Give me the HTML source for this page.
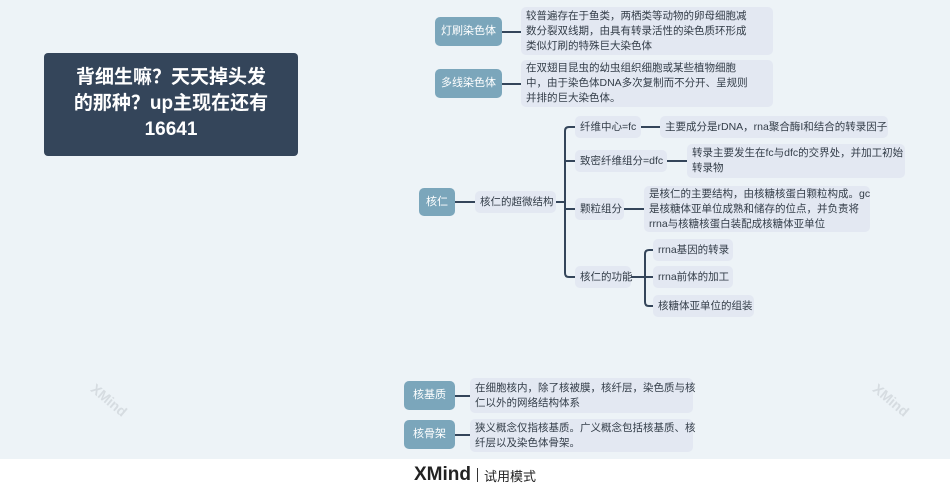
<!DOCTYPE html>
<html><head><meta charset="utf-8"><style>
*{margin:0;padding:0;box-sizing:border-box}
body{width:950px;height:491px;background:#edf3f7;position:relative;overflow:hidden;font-family:"Liberation Sans","Noto Sans CJK SC",sans-serif}
.b{position:absolute;display:flex;align-items:center;font-size:10.5px;color:#333d48;line-height:15px;white-space:nowrap}
.p{background:#7ba6bb;color:#fff;border-radius:5px;justify-content:center;font-size:11px}
.l{background:#e3e8f2;border-radius:5px;padding:0 5px}
.t{position:absolute;left:44px;top:53px;width:254px;height:103px;background:#34455a;border-radius:4px;color:#fff;font-weight:bold;font-size:19px;line-height:26px;text-align:center;padding-top:12px;font-family:"Liberation Sans","Noto Sans CJK SC",sans-serif}
.foot{position:absolute;left:0;top:459px;width:950px;height:32px;background:#fff;display:flex;align-items:center;justify-content:center}
svg{position:absolute;left:0;top:0}
.wm{position:absolute;color:#d6dce1;font-size:14px;font-weight:bold;transform:rotate(40deg)}
</style></head><body>
<div class="wm" style="left:88px;top:392px">XMind</div>
<div class="wm" style="left:870px;top:392px">XMind</div>
<svg width="950" height="491">
<g stroke="#34455a" stroke-width="2" fill="none">
<line x1="502" y1="32" x2="521" y2="32"/>
<line x1="502" y1="84" x2="521" y2="84"/>
<line x1="455" y1="202" x2="475" y2="202"/>
<line x1="556" y1="202" x2="565" y2="202"/>
<path d="M575 127 H569 Q565 127 565 131 V273 Q565 277 569 277 H575"/>
<line x1="565" y1="161" x2="575" y2="161"/>
<line x1="565" y1="209" x2="575" y2="209"/>
<line x1="641" y1="127" x2="660" y2="127"/>
<line x1="667" y1="161" x2="687" y2="161"/>
<line x1="624" y1="209" x2="644" y2="209"/>
<line x1="631" y1="277" x2="645" y2="277"/>
<path d="M653 250 H649 Q645 250 645 254 V302 Q645 306 649 306 H653"/>
<line x1="645" y1="277" x2="653" y2="277"/>
<line x1="455" y1="396" x2="470" y2="396"/>
<line x1="455" y1="435" x2="470" y2="435"/>
</g></svg>
<div class="t">背细生嘛？天天掉头发<br>的那种？up主现在还有<br>16641</div>
<div class="b p" style="left:435px;top:17px;width:67px;height:29px">灯刷染色体</div>
<div class="b l" style="left:521px;top:7px;width:252px;height:48px">较普遍存在于鱼类，两栖类等动物的卵母细胞减<br>数分裂双线期，由具有转录活性的染色质环形成<br>类似灯刷的特殊巨大染色体</div>
<div class="b p" style="left:435px;top:69px;width:67px;height:29px">多线染色体</div>
<div class="b l" style="left:521px;top:60px;width:252px;height:47px">在双翅目昆虫的幼虫组织细胞或某些植物细胞<br>中，由于染色体DNA多次复制而不分开、呈规则<br>并排的巨大染色体。</div>
<div class="b p" style="left:419px;top:188px;width:36px;height:28px">核仁</div>
<div class="b l" style="left:475px;top:191px;width:81px;height:22px">核仁的超微结构</div>
<div class="b l" style="left:575px;top:116px;width:66px;height:22px">纤维中心=fc</div>
<div class="b l" style="left:660px;top:116px;width:228px;height:22px">主要成分是rDNA，rna聚合酶I和结合的转录因子</div>
<div class="b l" style="left:575px;top:150px;width:92px;height:22px">致密纤维组分=dfc</div>
<div class="b l" style="left:687px;top:144px;width:218px;height:34px">转录主要发生在fc与dfc的交界处，并加工初始<br>转录物</div>
<div class="b l" style="left:575px;top:198px;width:49px;height:22px">颗粒组分</div>
<div class="b l" style="left:644px;top:186px;width:226px;height:46px">是核仁的主要结构，由核糖核蛋白颗粒构成。gc<br>是核糖体亚单位成熟和储存的位点，并负责将<br>rrna与核糖核蛋白装配成核糖体亚单位</div>
<div class="b l" style="left:575px;top:266px;width:56px;height:22px">核仁的功能</div>
<div class="b l" style="left:653px;top:239px;width:80px;height:22px">rrna基因的转录</div>
<div class="b l" style="left:653px;top:266px;width:80px;height:22px">rrna前体的加工</div>
<div class="b l" style="left:653px;top:295px;width:101px;height:22px">核糖体亚单位的组装</div>
<div class="b p" style="left:404px;top:381px;width:51px;height:29px">核基质</div>
<div class="b l" style="left:470px;top:378px;width:223px;height:35px">在细胞核内，除了核被膜，核纤层，染色质与核<br>仁以外的网络结构体系</div>
<div class="b p" style="left:404px;top:420px;width:51px;height:29px">核骨架</div>
<div class="b l" style="left:470px;top:419px;width:223px;height:33px">狭义概念仅指核基质。广义概念包括核基质、核<br>纤层以及染色体骨架。</div>
<div class="foot"><span style="font-size:19px;font-weight:bold;color:#222">XMind</span><span style="margin:0 6px;width:1px;height:14px;background:#333;display:inline-block"></span><span style="font-size:13px;color:#222">试用模式</span></div>
</body></html>
